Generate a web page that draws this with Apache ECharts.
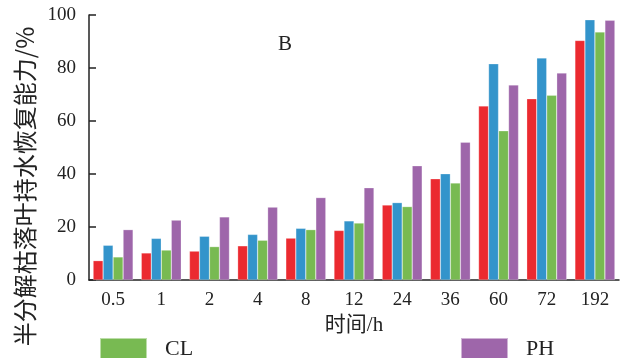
<!DOCTYPE html>
<html><head><meta charset="utf-8">
<script src="https://cdn.jsdelivr.net/npm/echarts@6/dist/echarts.min.js"></script>
<style>html,body{margin:0;padding:0;background:#fff}#c{width:626px;height:358px}</style>
</head><body><div id="c"></div>
<script>
var categories = ['0.5','1','2','4','8','12','24','36','60','72','192'];
var redVals    = [7.3,10.2,10.9,12.9,15.8,18.7,28.3,38.2,65.7,68.4,90.4];
var blueVals   = [13.1,15.7,16.5,17.2,19.5,22.3,29.2,40.1,81.6,83.8,98.2];
var clVals     = [8.7,11.3,12.6,15.0,19.0,21.5,27.7,36.6,56.3,69.7,93.6];
var phVals     = [19.0,22.6,23.8,27.5,31.1,34.8,43.1,52.0,73.6,78.1,98.0];
var yTicks = {min:0, max:100, interval:20};
var yName = '半分解枯落叶持水恢复能力/%';
var xName = '时间/h';
var panelLabel = 'B';

var serif = '"Liberation Serif", "Noto Sans CJK SC", serif';
var chart = echarts.init(document.getElementById('c'));
function bar(name, data, color){
  return {name:name, type:'bar', data:data, barGap:'0%', barCategoryGap:'17%',
    itemStyle:{color:color, borderColor:'rgba(255,255,255,0.5)', borderWidth:0.5}};
}
chart.setOption({
  animation:false,
  title:{text:panelLabel, left:273, top:29, textStyle:{fontFamily:serif, fontSize:21, fontWeight:'normal', color:'#222'}},
  grid:{left:89, right:7, top:15, bottom:78},
  legend:[
    {data:['CL'], left:99, top:337, padding:0, itemWidth:47, itemHeight:22, icon:'rect',
     textStyle:{fontFamily:serif, fontSize:22, color:'#222', padding:[0,0,0,13]}},
    {data:['PH'], left:460, top:337, padding:0, itemWidth:47, itemHeight:22, icon:'rect',
     textStyle:{fontFamily:serif, fontSize:22, color:'#222', padding:[0,0,0,13]}}
  ],
  xAxis:{type:'category', data:categories,
    name:xName, nameLocation:'middle', nameGap:32,
    nameTextStyle:{fontFamily:serif, fontSize:21, color:'#222'},
    axisLine:{lineStyle:{color:'#222', width:1.5}}, axisTick:{show:false},
    axisLabel:{fontFamily:serif, fontSize:19, color:'#222', margin:11}},
  yAxis:{type:'value', min:yTicks.min, max:yTicks.max, interval:yTicks.interval,
    name:yName, nameLocation:'middle', nameRotate:90, nameGap:52,
    nameTextStyle:{fontFamily:'"Noto Sans CJK SC", serif', fontSize:24, color:'#222', padding:[0,78,0,0]},
    axisLine:{show:true, lineStyle:{color:'#222', width:1.5}},
    axisTick:{show:true, inside:true, length:7, lineStyle:{color:'#222', width:1.5}},
    splitLine:{show:false},
    axisLabel:{fontFamily:serif, fontSize:19, color:'#222', margin:13}},
  series:[
    bar('S1', redVals, '#EB2A30'),
    bar('S2', blueVals, '#3394CB'),
    bar('CL', clVals, '#78BA52'),
    bar('PH', phVals, '#9E66AA')
  ]
});
</script></body></html>
